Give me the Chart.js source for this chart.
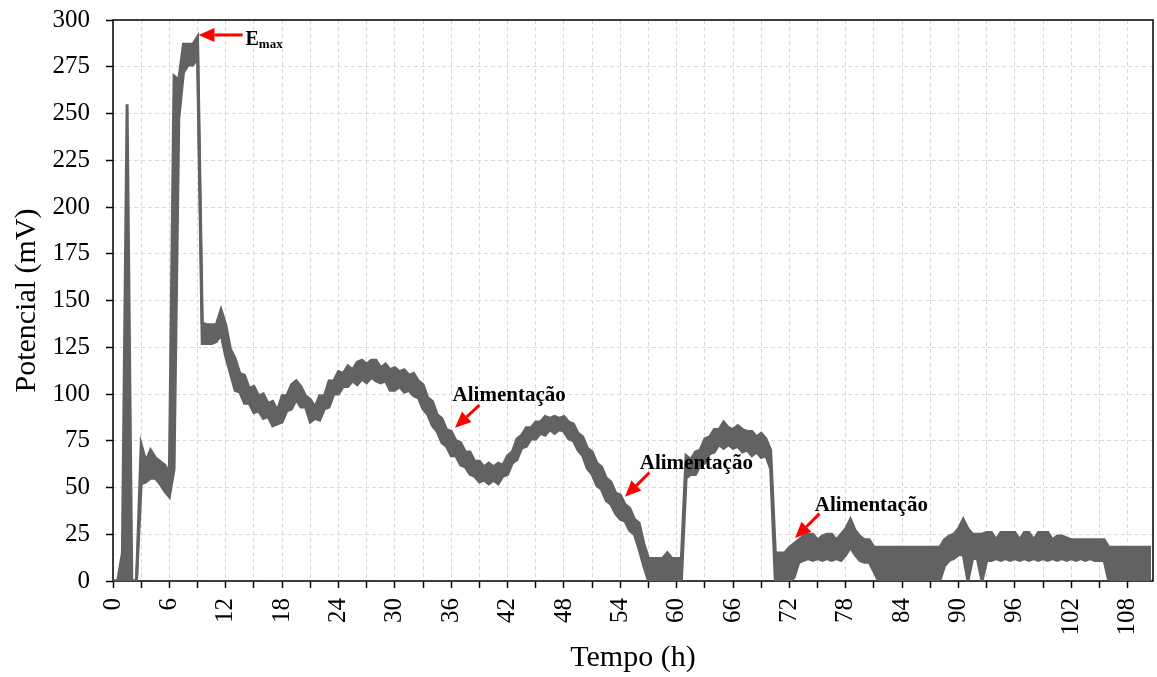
<!DOCTYPE html>
<html>
<head>
<meta charset="utf-8">
<title>Potencial x Tempo</title>
<script src="https://cdn.jsdelivr.net/npm/chart.js@4.4.1/dist/chart.umd.min.js"></script>
<style>
  html, body { margin: 0; padding: 0; background: #fff; }
  #grafico { display: block; }
</style>
</head>
<body>
<canvas id="grafico" width="1157" height="677"></canvas>
<script>
// passo de leitura da curva (h)
const passoHoras = 0.5;

// envoltória superior do sinal (mV), a cada 0,5 h de 0 a 110,5 h
const superior = [
  0, 0, 15, 255, 0, 0, 73, 64, 70, 66, 64, 62,
  58, 270, 268, 287, 287, 287, 291, 138, 137, 137, 137, 145,
  137, 124, 119, 111, 110, 103, 104, 99, 100, 95, 96, 91,
  99, 99, 105, 107, 104, 99, 97, 93, 99, 99, 107, 107,
  112, 111, 115, 113, 117, 118, 116, 118, 118, 114, 116, 113,
  114, 112, 113, 110, 111, 107, 105, 98, 96, 89, 87, 81,
  80, 75, 74, 69, 69, 64, 64, 61, 63, 61, 63, 62,
  67, 69, 76, 78, 82, 82, 85, 85, 88, 87, 88, 87,
  88, 85, 84, 79, 77, 71, 69, 63, 61, 55, 53, 47,
  46, 41, 39, 33, 31, 20, 12, 12, 12, 12, 15, 12,
  12, 12, 67, 65, 69, 70, 76, 77, 81, 81, 85, 82,
  81, 83, 81, 80, 80, 77, 79, 76, 70, 15, 15, 15,
  18, 20, 22, 24, 25, 25, 22, 24, 25, 25, 22, 25,
  28, 33, 27, 24, 22, 22, 18, 18, 18, 18, 18, 18,
  18, 18, 18, 18, 18, 18, 18, 18, 18, 22, 24, 25,
  28, 33, 28, 25, 25, 25, 26, 26, 22, 26, 26, 26,
  26, 22, 26, 26, 22, 26, 26, 26, 22, 24, 24, 23,
  22, 22, 22, 22, 22, 22, 22, 22, 18, 18, 18, 18,
  18, 18, 18, 18, 18, 18
];

// envoltória inferior do sinal (mV), mesmos instantes
const inferior = [
  0, 0, 0, 0, 0, 0, 52, 53, 55, 55, 52, 48,
  45, 60, 247, 272, 276, 276, 280, 127, 127, 127, 128, 132,
  120, 111, 102, 101, 95, 95, 90, 91, 87, 88, 83, 84,
  85, 91, 92, 97, 93, 93, 85, 87, 86, 92, 93, 100,
  100, 104, 104, 107, 105, 108, 106, 109, 107, 106, 107, 102,
  102, 104, 101, 102, 99, 98, 92, 89, 83, 80, 74, 72,
  67, 67, 62, 61, 57, 56, 53, 54, 52, 54, 52, 56,
  57, 63, 65, 71, 72, 76, 76, 79, 78, 81, 79, 81,
  80, 76, 75, 70, 67, 60, 57, 51, 49, 43, 41, 36,
  33, 32, 27, 25, 17, 8, 0, 0, 0, 0, 0, 0,
  0, 0, 55, 57, 57, 62, 63, 68, 69, 73, 71, 73,
  71, 72, 69, 70, 67, 69, 66, 67, 60, 0, 0, 0,
  0, 2, 10, 11, 12, 11, 12, 11, 12, 11, 12, 11,
  14, 18, 14, 11, 10, 10, 5, 0, 0, 0, 0, 0,
  0, 0, 0, 0, 0, 0, 0, 0, 0, 8, 11, 12,
  14, 14, 0, 12, 12, 0, 11, 11, 12, 11, 12, 11,
  12, 11, 12, 11, 12, 11, 12, 11, 12, 11, 12, 11,
  12, 11, 12, 11, 12, 11, 11, 11, 0, 0, 0, 0,
  0, 0, 0, 0, 0, 0
];

const tempo = superior.map((_, i) => i * passoHoras);

const eixoX = { min: 0, max: 110.7, passo: 3, rotulo: 6 };
const eixoY = { min: 0, max: 300, passo: 25 };

// anotações em coordenadas de dados (t em h, v em mV)
const notas = [
  { texto: 'Alimentação', ponta: [36.4, 82], cauda: [39.0, 94], pos: [36.15, 96] },
  { texto: 'Alimentação', ponta: [54.5, 45], cauda: [57.1, 58], pos: [56.07, 60] },
  { texto: 'Alimentação', ponta: [72.6, 23], cauda: [75.2, 36], pos: [74.7, 37.4] }
];
const notaEmax = { ponta: [9.1, 292], cauda: [13.8, 292], pos: [14.1, 286.5] };

const fonte = 'Liberation Serif, Times New Roman, serif';
const cinza = '#626262';

function seta(ctx, x1, y1, x2, y2) {
  const ang = Math.atan2(y2 - y1, x2 - x1);
  const comp = 16, larg = 7;
  const bx = x2 - comp * Math.cos(ang), by = y2 - comp * Math.sin(ang);
  ctx.strokeStyle = '#ff0000';
  ctx.fillStyle = '#ff0000';
  ctx.lineWidth = 3;
  ctx.beginPath();
  ctx.moveTo(x1, y1);
  ctx.lineTo(bx, by);
  ctx.stroke();
  ctx.beginPath();
  ctx.moveTo(x2, y2);
  ctx.lineTo(bx + larg * Math.sin(ang), by - larg * Math.cos(ang));
  ctx.lineTo(bx - larg * Math.sin(ang), by + larg * Math.cos(ang));
  ctx.closePath();
  ctx.fill();
}

const moldura = {
  id: 'moldura',
  beforeDraw(chart) {
    const ctx = chart.ctx;
    ctx.save();
    ctx.fillStyle = '#fff';
    ctx.fillRect(0, 0, chart.width, chart.height);
    ctx.restore();
  },
  beforeDatasetsDraw(chart) {
    const { ctx, chartArea: a } = chart;
    ctx.save();
    ctx.strokeStyle = '#000';
    ctx.lineWidth = 1.5;
    ctx.strokeRect(a.left, a.top, a.right - a.left, a.bottom - a.top);
    ctx.restore();
  },
  afterDatasetsDraw(chart) {
    const { ctx, scales: { x, y } } = chart;
    ctx.save();
    notas.forEach(n => {
      seta(ctx, x.getPixelForValue(n.cauda[0]), y.getPixelForValue(n.cauda[1]),
        x.getPixelForValue(n.ponta[0]), y.getPixelForValue(n.ponta[1]));
      ctx.fillStyle = '#000';
      ctx.font = 'bold 21px ' + fonte;
      ctx.textBaseline = 'alphabetic';
      ctx.textAlign = 'left';
      ctx.fillText(n.texto, x.getPixelForValue(n.pos[0]), y.getPixelForValue(n.pos[1]));
    });
    seta(ctx, x.getPixelForValue(notaEmax.cauda[0]), y.getPixelForValue(notaEmax.cauda[1]),
      x.getPixelForValue(notaEmax.ponta[0]), y.getPixelForValue(notaEmax.ponta[1]));
    const ex = x.getPixelForValue(notaEmax.pos[0]);
    const ey = y.getPixelForValue(notaEmax.pos[1]);
    ctx.fillStyle = '#000';
    ctx.font = 'bold 20px ' + fonte;
    ctx.fillText('E', ex, ey);
    const w = ctx.measureText('E').width;
    ctx.font = 'bold 13px ' + fonte;
    ctx.fillText('max', ex + w, ey + 3);
    ctx.restore();
  }
};

function serie(valores) {
  return tempo.map((t, i) => ({ x: t, y: valores[i] }));
}

new Chart(document.getElementById('grafico'), {
  type: 'line',
  data: {
    datasets: [{
      data: serie(superior),
      borderColor: cinza,
      backgroundColor: cinza,
      borderWidth: 3,
      pointRadius: 0,
      tension: 0,
      fill: '+1'
    }, {
      data: serie(inferior),
      borderColor: cinza,
      borderWidth: 3,
      pointRadius: 0,
      tension: 0,
      fill: false
    }]
  },
  options: {
    responsive: false,
    animation: false,
    events: [],
    layout: { padding: { top: 20, right: 4, left: 0, bottom: 0 } },
    plugins: { legend: { display: false }, tooltip: { enabled: false } },
    scales: {
      x: {
        type: 'linear',
        min: eixoX.min,
        max: eixoX.max,
        afterFit(s) { s.height = 96; s.paddingLeft = 0; s.paddingRight = 0; },
        ticks: {
          stepSize: eixoX.passo,
          includeBounds: false,
          autoSkip: false,
          minRotation: 90,
          maxRotation: 90,
          padding: 10,
          color: '#000',
          font: { family: fonte, size: 25 },
          callback: v => (v % eixoX.rotulo === 0 ? String(v) : '')
        },
        grid: { color: '#d9d9d9', lineWidth: 1, tickColor: '#000', tickLength: 7, tickWidth: 1.5 },
        border: { display: false, dash: [4, 3] },
        title: {
          display: true, text: 'Tempo (h)', color: '#000',
          font: { family: fonte, size: 30 }, padding: { top: 0, bottom: 1 }
        }
      },
      y: {
        min: eixoY.min,
        max: eixoY.max,
        afterFit(s) { s.width = 113; s.paddingTop = 0; s.paddingBottom = 0; },
        ticks: {
          stepSize: eixoY.passo,
          padding: 16,
          color: '#000',
          font: { family: fonte, size: 25 }
        },
        grid: { color: '#d9d9d9', lineWidth: 1, tickColor: '#000', tickLength: 7, tickWidth: 1.5 },
        border: { display: false, dash: [4, 3] },
        title: {
          display: true, text: 'Potencial (mV)', color: '#000',
          font: { family: fonte, size: 30 }, padding: { top: 9, bottom: 0 }
        }
      }
    }
  },
  plugins: [moldura]
});
</script>
</body>
</html>
